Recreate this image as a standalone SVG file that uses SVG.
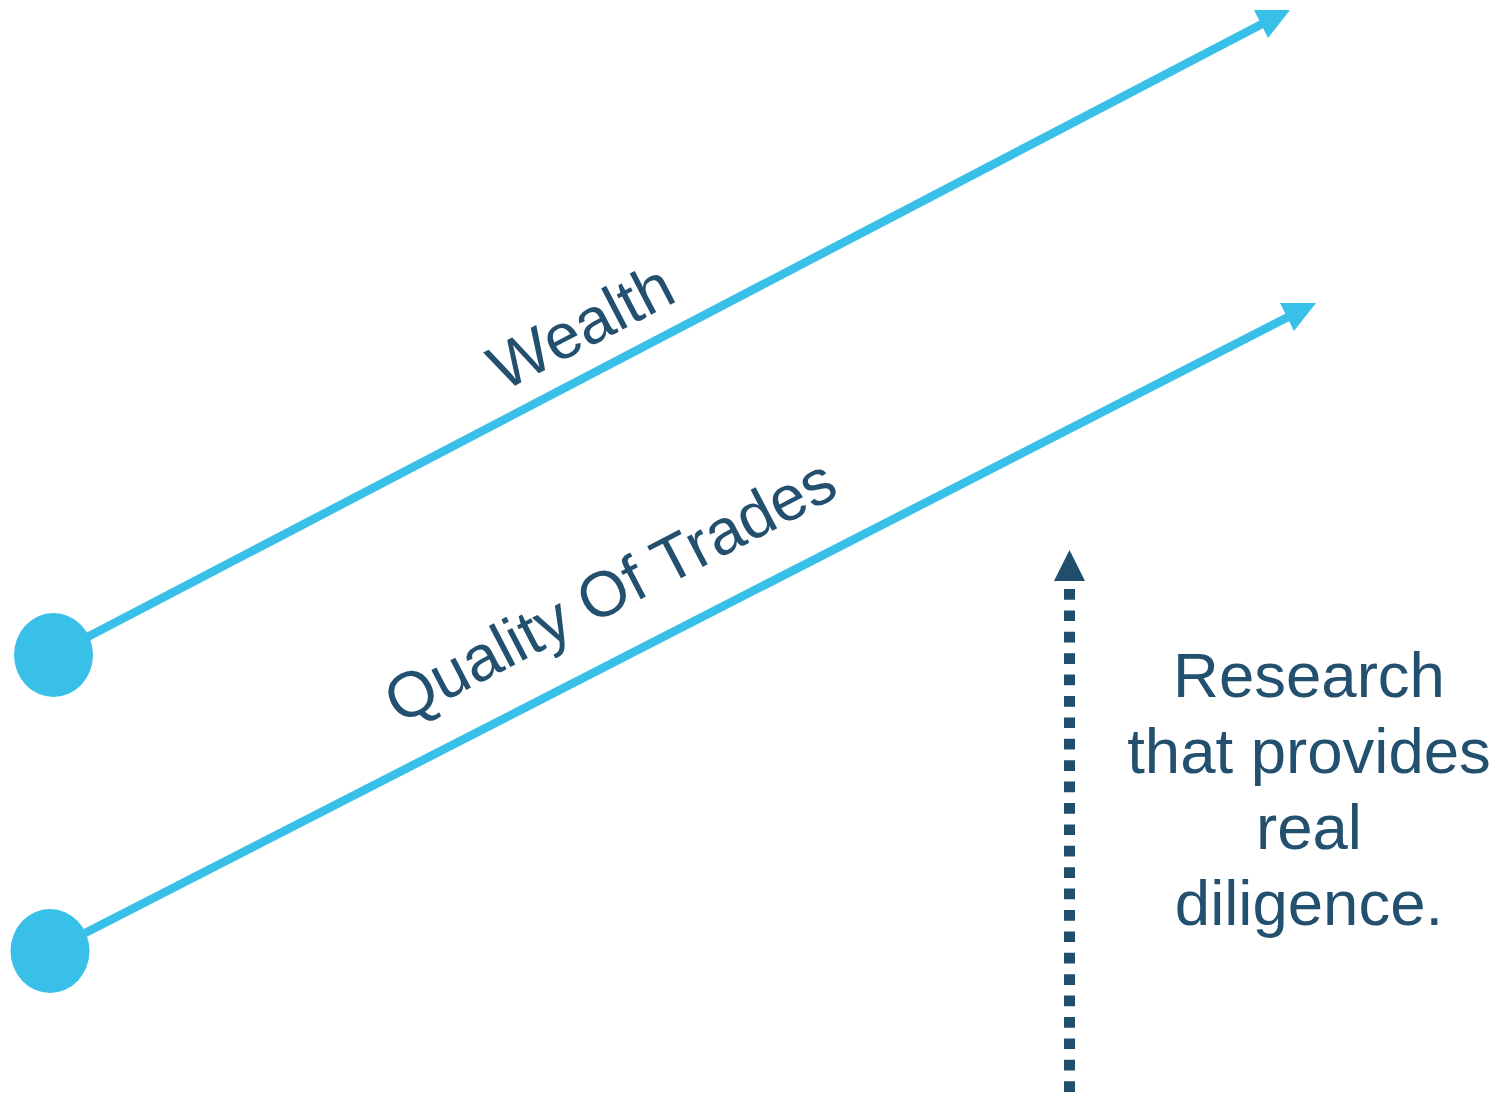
<svg xmlns="http://www.w3.org/2000/svg" width="1501" height="1093" viewBox="0 0 1501 1093">
  <style>
    .flow { stroke: #38C0E9; stroke-width: 8.5; fill: none; }
    .flow-head { fill: #38C0E9; stroke: none; }
    .dot { fill: #38C0E9; }
    .label { font-family: "Liberation Sans", Arial, sans-serif; fill: #23506F; }
    .diag { font-size: 64px; }
    .note { font-size: 63.5px; text-anchor: middle; }
    .effort { stroke: #1F4F6D; stroke-width: 11; stroke-dasharray: 10.7 10.7; fill: none; }
    .effort-head { fill: #1F4F6D; }
  </style>
  <rect width="1501" height="1093" fill="#FFFFFF"/>

  <g id="connectors">
    <!-- upper trend line -->
    <line class="flow" x1="53" y1="655" x2="1262" y2="24"/>
    <polygon class="flow-head" points="1254,10 1290,10 1268,38"/>
    <!-- lower trend line -->
    <line class="flow" x1="50" y1="951" x2="1288" y2="317"/>
    <polygon class="flow-head" points="1280,303 1316,303 1294,331"/>
    <!-- dotted upward arrow -->
    <line class="effort" x1="1069.5" y1="589" x2="1069.5" y2="1093"/>
    <polygon class="effort-head" points="1069.5,550 1054,581 1085,581"/>
  </g>

  <g id="wealth-start">
    <ellipse class="dot" cx="53.5" cy="655" rx="39.5" ry="42"/>
  </g>
  <g id="quality-start">
    <ellipse class="dot" cx="50" cy="951" rx="39.5" ry="42"/>
  </g>

  <g id="wealth-label">
    <text class="label diag" text-anchor="middle" transform="translate(591,346) rotate(-27.5)">Wealth</text>
  </g>
  <g id="quality-label">
    <text class="label diag" text-anchor="middle" transform="translate(620,610) rotate(-27.5)">Quality Of Trades</text>
  </g>

  <g id="research-note">
    <text class="label note" x="1309" y="697">Research</text>
    <text class="label note" x="1309" y="773">that provides</text>
    <text class="label note" x="1309" y="849">real</text>
    <text class="label note" x="1309" y="925">diligence.</text>
  </g>
</svg>
